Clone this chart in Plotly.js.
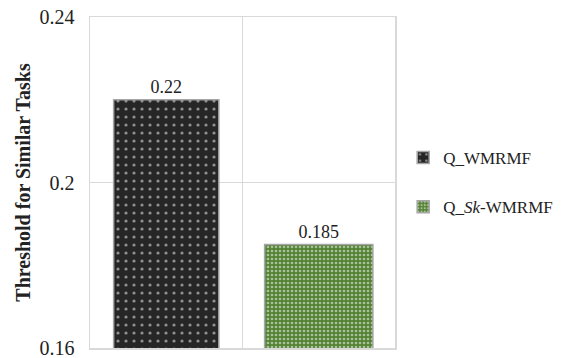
<!DOCTYPE html>
<html>
<head>
<meta charset="utf-8">
<script src="https://cdn.plot.ly/plotly-3.0.1.min.js"></script>
<style>html,body{margin:0;padding:0;background:#fff;}#chart{width:568px;height:358px;}</style>
</head>
<body>
<div id="chart"></div>
<script>
const seriesNames = ["Q_WMRMF", "Q_<i>Sk</i>-WMRMF"];
const seriesValues = [0.22, 0.185];
const valueLabels = ["0.22", "0.185"];
const yTicks = [0.16, 0.2, 0.24];
const yTickLabels = ["0.16", "0.2", "0.24"];

const FONT = "Liberation Serif, DejaVu Serif, serif";
const traces = [
  {
    type: "bar", x: [0], y: [seriesValues[0]], name: seriesNames[0], legendgroup: "a",
    width: 0.69, text: [valueLabels[0]], textposition: "outside", cliponaxis: false,
    textfont: {family: FONT, size: 18, color: "#222"},
    marker: {color: "#262626", line: {color: "#a6a6a6", width: 1.5},
      pattern: {shape: ".", fgcolor: "#ffffff", bgcolor: "#262626", size: 8, solidity: 0.12, fillmode: "overlay"}}
  },
  {
    type: "bar", x: [1], y: [seriesValues[1]], name: seriesNames[1], legendgroup: "b",
    width: 0.71, text: [valueLabels[1]], textposition: "outside", cliponaxis: false,
    textfont: {family: FONT, size: 18, color: "#222"},
    marker: {color: "#548235", line: {color: "#a6a6a6", width: 1.5},
      pattern: {shape: ".", fgcolor: "#ffffff", bgcolor: "#548235", size: 4, solidity: 0.35, fillmode: "overlay"}}
  }
];
const layout = {
  width: 568, height: 358,
  margin: {l: 90, r: 167, t: 17, b: 10},
  paper_bgcolor: "#fff", plot_bgcolor: "#fff",
  font: {family: FONT, size: 17, color: "#222"},
  showlegend: true,
  legend: {x: 1.535, y: 0.5, xanchor: "right", yanchor: "middle", traceorder: "grouped",
    tracegroupgap: 24, borderwidth: 0, font: {family: FONT, size: 17, color: "#222"}, itemwidth: 30},
  xaxis: {range: [-0.5, 1.5], tickvals: [0.5], showticklabels: false, showgrid: true,
    gridcolor: "#d9d9d9", gridwidth: 1.5, showline: true, mirror: true, linecolor: "#d9d9d9",
    linewidth: 1.5, zeroline: false, ticks: "", fixedrange: true},
  yaxis: {range: [0.16, 0.24], tickvals: yTicks, ticktext: yTickLabels, showgrid: true,
    gridcolor: "#d9d9d9", gridwidth: 1.5, showline: true, mirror: true, linecolor: "#d9d9d9",
    linewidth: 1.5, zeroline: false, ticks: "", ticklabelstandoff: 10, ticklabeloverflow: "allow",
    automargin: false,
    tickfont: {family: FONT, size: 20, color: "#222"},
    title: {text: "<b>Threshold for Similar Tasks</b>", standoff: 3,
      font: {family: FONT, size: 20, color: "#222"}}}
};
Plotly.newPlot("chart", traces, layout, {displayModeBar: false, staticPlot: true});
</script>
</body>
</html>
